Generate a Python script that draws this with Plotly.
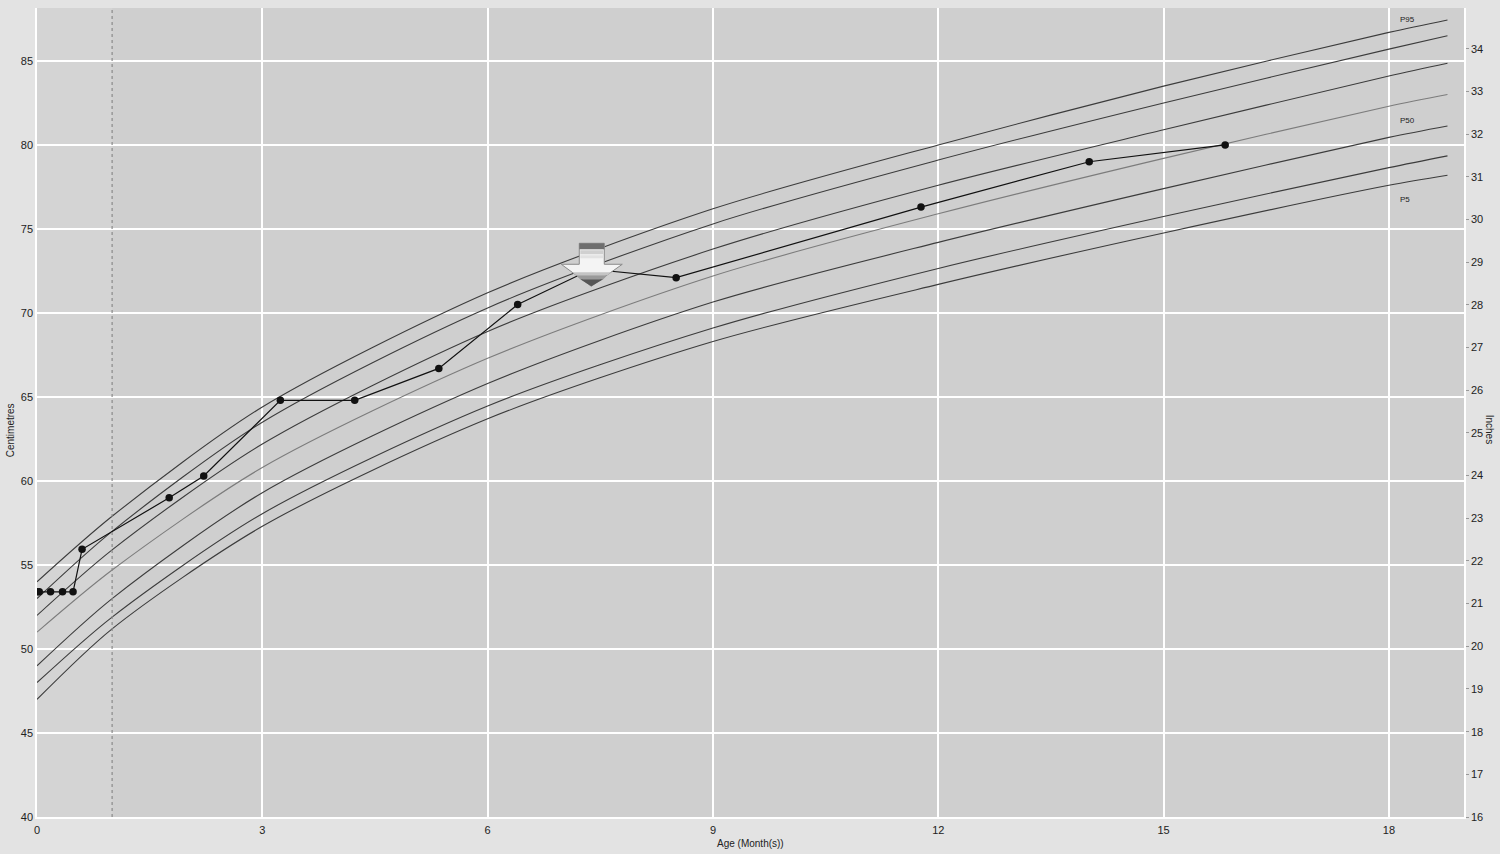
import plotly.graph_objects as go

# ---- data ----
ref_age = [0, 1, 3, 6, 9, 12, 15, 18, 18.78]
p_top = [54.0, 57.9, 64.4, 71.2, 76.2, 80.0, 83.5, 86.7, 87.44]
p_2 = [53.0, 57.0, 63.5, 70.3, 75.3, 79.1, 82.5, 85.7, 86.5]
p_3 = [52.0, 55.9, 62.2, 68.9, 73.8, 77.6, 80.9, 84.1, 84.86]
p_4 = [51.0, 54.7, 60.8, 67.3, 72.2, 75.9, 79.2, 82.3, 83.0]
p_5 = [49.0, 53.0, 59.3, 65.8, 70.65, 74.2, 77.4, 80.45, 81.13]
p_6 = [48.0, 51.9, 58.05, 64.46, 69.1, 72.65, 75.74, 78.65, 79.35]
p_bot = [47.0, 51.2, 57.3, 63.7, 68.3, 71.7, 74.76, 77.6, 78.2]
curves = [p_top, p_2, p_3, p_4, p_5, p_6, p_bot]
curve_colors = ["#3c3c3c", "#3c3c3c", "#3c3c3c", "#7c7c7c", "#3c3c3c", "#3c3c3c", "#3c3c3c"]

child_age = [0, 0.03, 0.18, 0.34, 0.48, 0.60, 1.76, 2.22, 3.24, 4.23, 5.35, 6.40, 7.38, 8.51, 11.77, 14.01, 15.82]
child_len = [53.4, 53.4, 53.4, 53.4, 53.4, 55.93, 59.0, 60.3, 64.8, 64.8, 66.7, 70.5, 72.6, 72.1, 76.3, 79.0, 80.0]
selected_index = 12

pct_labels = ["P95", "P50", "P5"]
pct_label_y = [87.44, 81.43, 76.75]

x_ticks = [0, 3, 6, 9, 12, 15, 18]
cm_ticks = [40, 45, 50, 55, 60, 65, 70, 75, 80, 85]
in_ticks = list(range(16, 35))

X_RANGE = [0, 19.0]
Y_RANGE = [40, 88.15]
IN_RANGE = [16, 16 + (Y_RANGE[1] - Y_RANGE[0]) / 2.54]

fig = go.Figure()
for vals, col in zip(curves, curve_colors):
    fig.add_trace(go.Scatter(x=ref_age, y=vals, mode="lines",
                             line=dict(color=col, width=1.1, shape="spline", smoothing=0.8),
                             hoverinfo="skip", showlegend=False))

fig.add_trace(go.Scatter(x=child_age, y=child_len, mode="lines+markers",
                         line=dict(color="#111111", width=1.2),
                         marker=dict(color="#111111", size=7.5),
                         showlegend=False))

# invisible trace to activate inch axis
fig.add_trace(go.Scatter(x=[X_RANGE[0]], y=[IN_RANGE[0]], yaxis="y2", mode="markers",
                         marker=dict(opacity=0), hoverinfo="skip", showlegend=False))

shapes = []
shapes.append(dict(type="rect", xref="x", yref="paper", x0=0, x1=1, y0=0, y1=1,
                   fillcolor="#d4d4d4", line=dict(width=0), layer="below"))
shapes.append(dict(type="line", xref="x", yref="paper", x0=1, x1=1, y0=0, y1=1,
                   line=dict(color="#8a8a8a", width=1.2, dash="dot"), layer="above"))

# block arrow over the selected point (offsets in px converted to data units)
px_per_x = 1427 / (X_RANGE[1] - X_RANGE[0])
px_per_y = 809 / (Y_RANGE[1] - Y_RANGE[0])
ax0 = child_age[selected_index]
ay0 = child_len[selected_index]


def P(dx, dy):
    return ax0 + dx / px_per_x, ay0 + (dy - 17) / px_per_y


def path(points):
    s = ""
    for i, (dx, dy) in enumerate(points):
        x, y = P(dx, dy)
        s += ("M" if i == 0 else "L") + f"{x},{y} "
    return s + "Z"


outline = [(-12, 43), (13, 43), (13, 22), (31, 22), (0, 0), (-30, 22), (-12, 22)]
shapes.append(dict(type="path", path=path(outline), fillcolor="#f4f4f4",
                   line=dict(color="#8a8a8a", width=1), layer="above"))
shapes.append(dict(type="path", path=path([(-11, 36), (12, 36), (12, 32), (-11, 32)]),
                   fillcolor="#d0d0d0", line=dict(width=0), layer="above"))
shapes.append(dict(type="path", path=path([(-11, 31), (12, 31), (12, 28), (-11, 28)]),
                   fillcolor="#e2e2e2", line=dict(width=0), layer="above"))
shapes.append(dict(type="path", path=path([(-12, 43), (13, 43), (13, 37), (-12, 37)]),
                   fillcolor="#6e6e6e", line=dict(width=0), layer="above"))
shapes.append(dict(type="path", path=path([(-19, 14), (20, 14), (16, 11), (-15, 11)]),
                   fillcolor="#c4c4c4", line=dict(width=0), layer="above"))
shapes.append(dict(type="path", path=path([(-15, 11), (16, 11), (12, 7), (-11, 7)]),
                   fillcolor="#9a9a9a", line=dict(width=0), layer="above"))
shapes.append(dict(type="path", path=path([(-11, 7), (12, 7), (0, 0)]),
                   fillcolor="#555555", line=dict(width=0), layer="above"))

font_family = "Arial, Liberation Sans, sans-serif"
annotations = []
for lab, yv in zip(pct_labels, pct_label_y):
    annotations.append(dict(x=18.12, y=yv, xref="x", yref="y", text=lab, showarrow=False,
                            xanchor="left", yanchor="middle",
                            font=dict(size=8, color="#222222", family=font_family)))
annotations.append(dict(x=0, y=0.478, xref="paper", yref="paper", text="Centimetres",
                        showarrow=False, textangle=-90, xshift=-27, xanchor="center",
                        yanchor="middle", font=dict(size=10, color="#222222")))
annotations.append(dict(x=1, y=0.48, xref="paper", yref="paper", text="Inches",
                        showarrow=False, textangle=90, xshift=25, xanchor="center",
                        yanchor="middle", font=dict(size=10, color="#222222")))
annotations.append(dict(x=0.5, y=0, xref="paper", yref="paper", text="Age (Month(s))",
                        showarrow=False, yshift=-26, xanchor="center",
                        yanchor="middle", font=dict(size=10, color="#222222")))

fig.update_layout(
    width=1500, height=854,
    margin=dict(l=37, r=36, t=8, b=37),
    paper_bgcolor="#e3e3e3", plot_bgcolor="#cfcfcf",
    font=dict(family=font_family, size=11, color="#222222"),
    shapes=shapes, annotations=annotations,
    xaxis=dict(range=X_RANGE, tickvals=x_ticks, showgrid=True, gridcolor="#ffffff", gridwidth=1.5,
               zeroline=False, showline=True, linecolor="#ffffff", linewidth=1.5,
               ticks="", ticklabelstandoff=2, automargin=False),
    yaxis=dict(range=Y_RANGE, tickvals=cm_ticks, showgrid=True, gridcolor="#ffffff", gridwidth=1.5,
               zeroline=False, showline=True, linecolor="#ffffff", linewidth=1.5,
               ticks="", automargin=False),
    yaxis2=dict(range=IN_RANGE, tickvals=in_ticks, overlaying="y", side="right",
                showgrid=False, zeroline=False, showline=True, linecolor="#ffffff", linewidth=1.5,
                ticks="outside", ticklen=3, tickcolor="#999999", automargin=False),
)

fig.write_html("out.html",
               config={"displayModeBar": False},
               post_script="document.body.style.margin='0px';"
                           "document.body.style.background='#e3e3e3';"
                           "document.body.style.overflow='hidden';")
